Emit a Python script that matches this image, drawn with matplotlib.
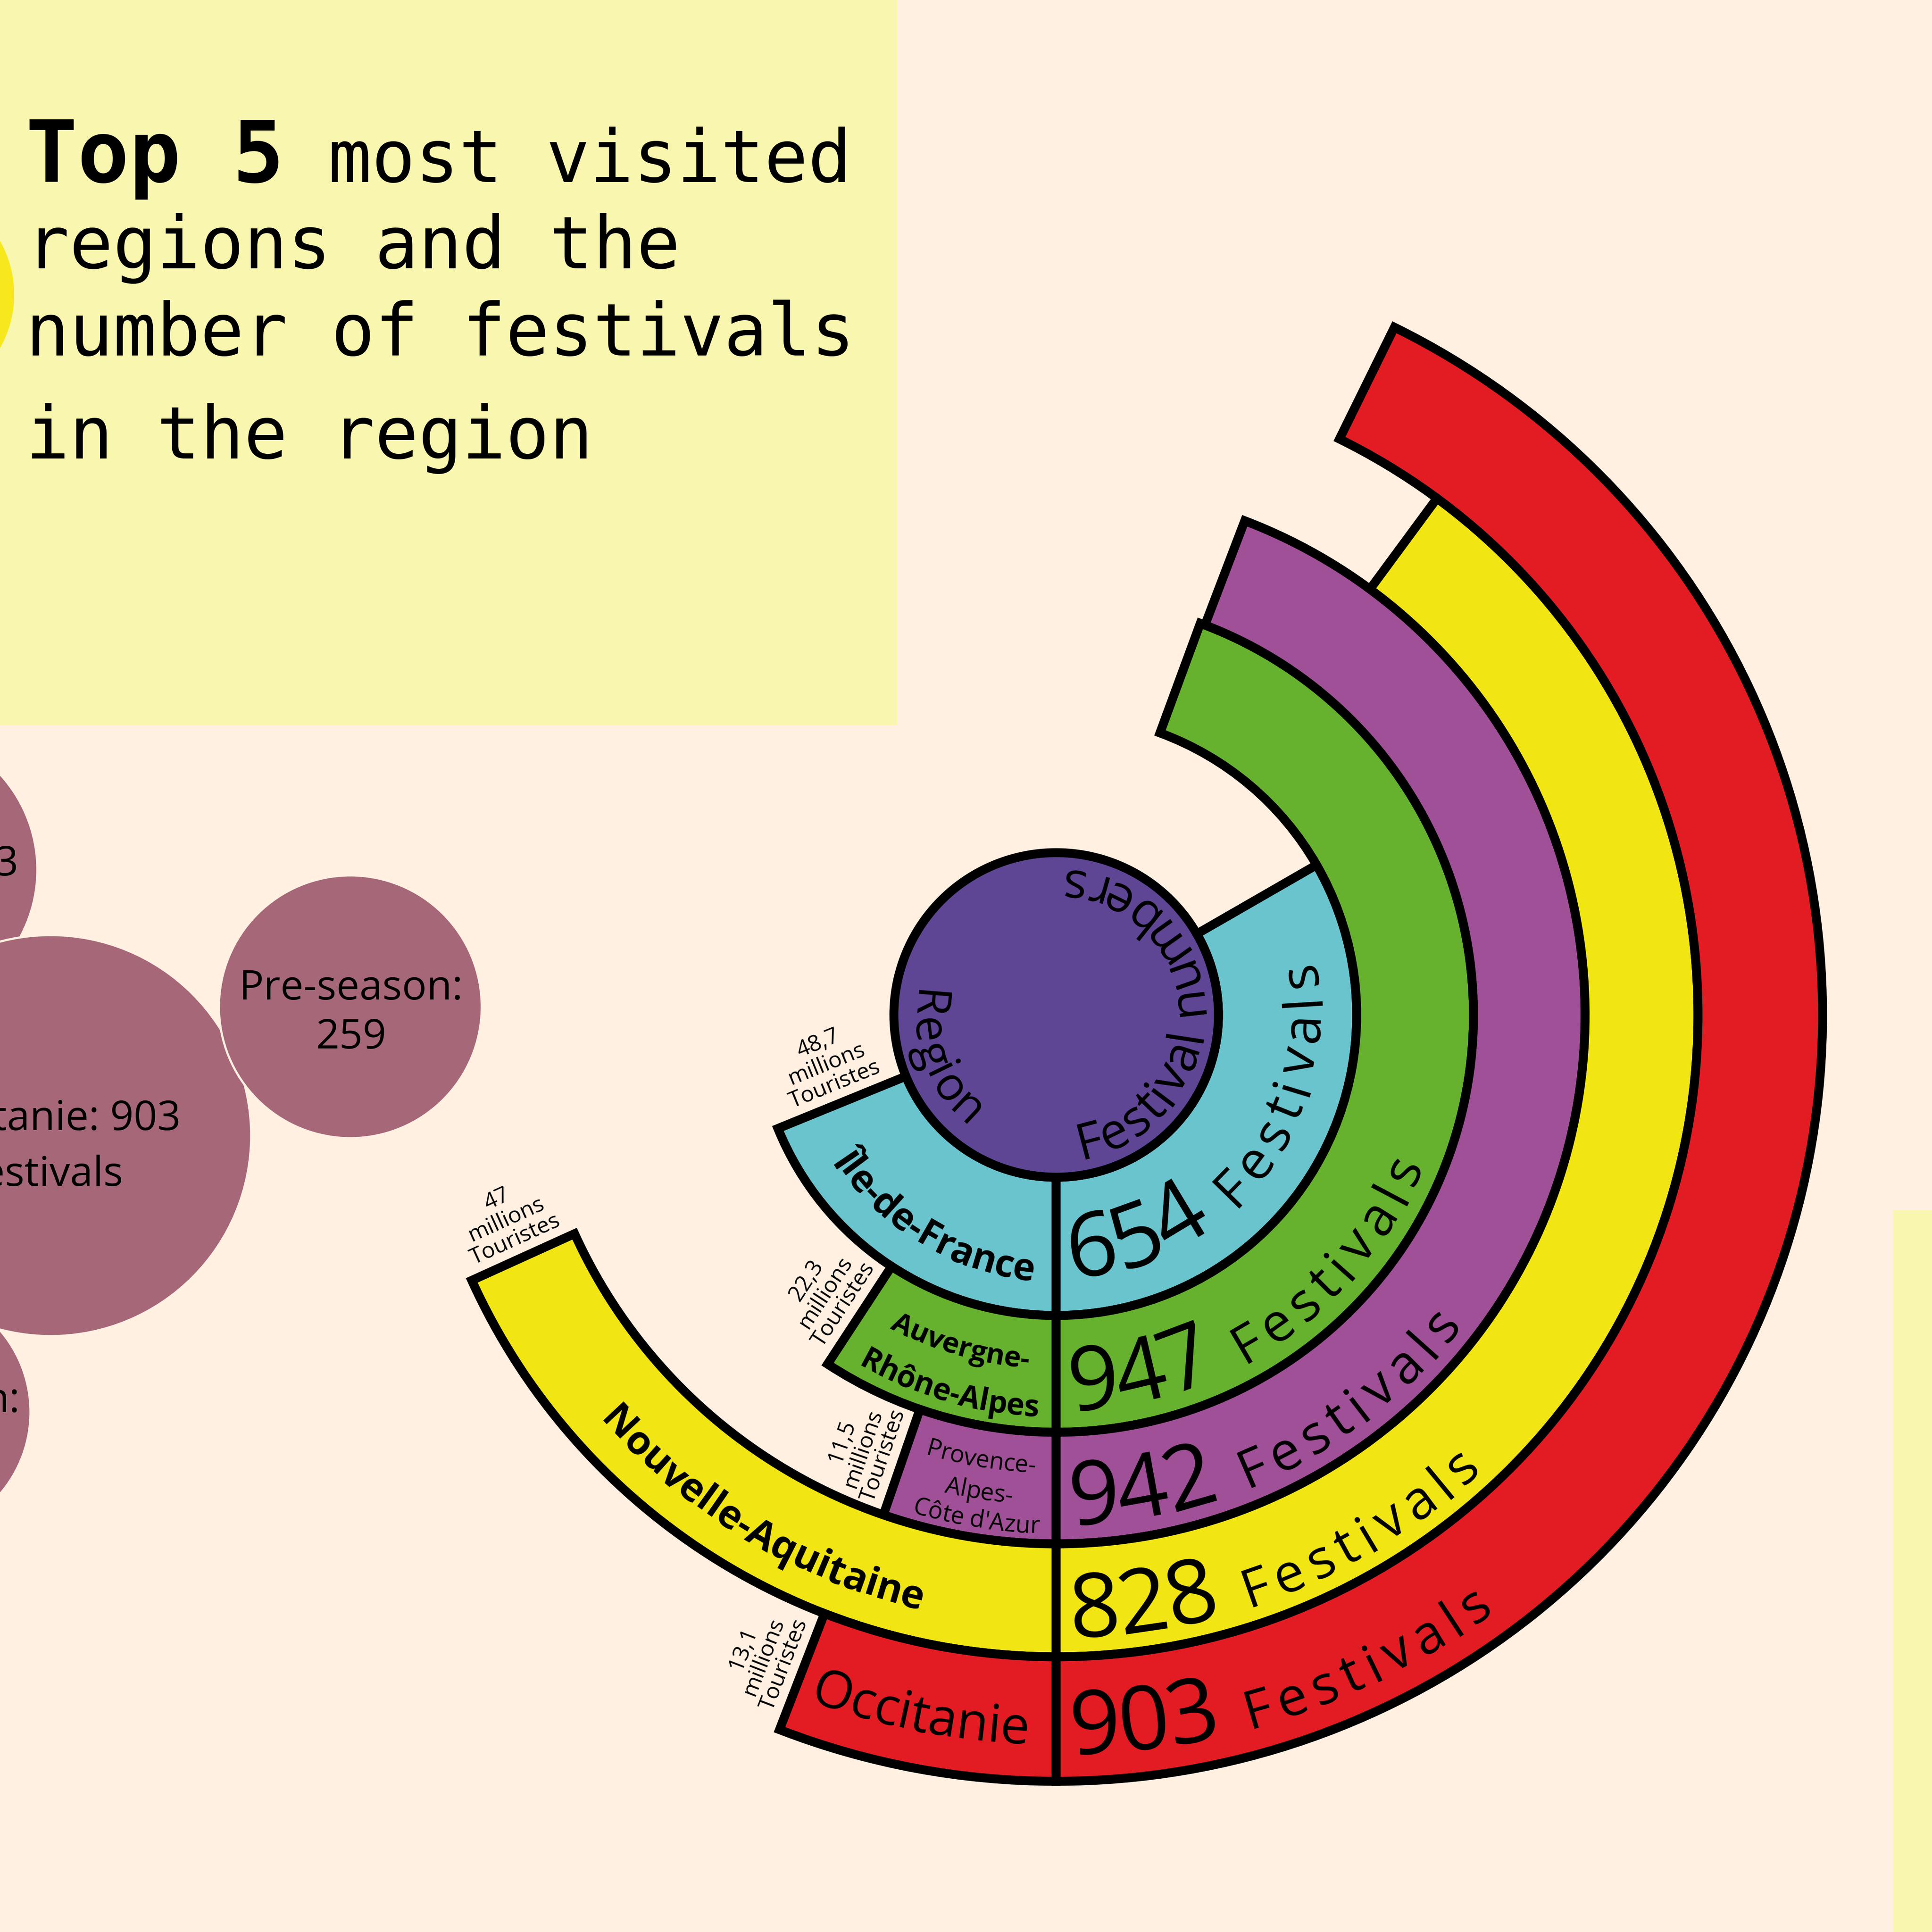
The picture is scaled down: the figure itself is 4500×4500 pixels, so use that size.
import numpy as np
import matplotlib
matplotlib.use("Agg")
import matplotlib.pyplot as plt
from matplotlib.patches import Circle, Rectangle
from matplotlib.font_manager import FontProperties, findfont, get_font

# ------------------------------------------------------------------ data
regions = ["Île-de-France", "Auvergne-Rhône-Alpes", "Provence-Alpes-Côte d'Azur",
           "Nouvelle-Aquitaine", "Occitanie"]
region_lines = [["Île-de-France"], ["Auvergne-", "Rhône-Alpes"],
                ["Provence-", "Alpes-", "Côte d'Azur"], ["Nouvelle-Aquitaine"], ["Occitanie"]]
tourists = [48.7, 22.3, 11.5, 47.0, 13.1]          # millions of tourists
tourist_text = ["48,7", "22,3", "11,5", "47", "13,1"]
festivals = [654, 947, 942, 828, 903]
festival_word = "Festivals"

title_bold = "Top 5"
title_rest = ["most visited", "regions and the", "number of festivals", "in the region"]

bubble_lines = [["3"], ["Occitanie: 903", "festivals"], ["Pre-season:", "259"], ["n:"]]

center_left = "Region"
center_right = "Festival numbers"

# ------------------------------------------------------------------ style / layout
DPI = 300
BG = "#FFF0E1"
PANEL = "#F9F6AF"
BUBBLE = "#A66879"
CENTER_C = "#5E4695"
ring_colors = ["#6AC4CE", "#66B22F", "#A05097", "#F1E614", "#E31C23"]
LW = 5.0
HAND = "Open Sans"

# radial layout (pixels)
r_edges = [378, 700, 972, 1232, 1495, 1785]
# angular scales (degrees) for the data
T0, TS = 4.0, 1.31      # tourists -> angle
F0, FS = 31.0, 0.136    # festivals -> angle

def t_angle(v):
    return T0 + TS * v

def f_angle(v):
    return F0 + FS * v

fig = plt.figure(figsize=(15, 15), dpi=DPI)
fig.patch.set_facecolor(BG)

# ---------------------------------------------------------- background axes (pixel coords)
bg = fig.add_axes([0, 0, 1, 1])
bg.set_xlim(0, 4500)
bg.set_ylim(4500, 0)
bg.axis("off")

bg.add_patch(Rectangle((0, 0), 2087, 1687, color=PANEL, zorder=1))
bg.add_patch(Rectangle((4411, 2821), 200, 1800, color=PANEL, zorder=1))
bg.add_patch(Circle((-219, 686), 250, color="#F7E81E", zorder=2))

# title
bg.text(60, 424, title_bold, family="DejaVu Sans Mono", weight="bold", fontsize=48,
        ha="left", va="baseline", zorder=5)
bg.text(764, 424, title_rest[0], family="DejaVu Sans Mono", fontsize=40.5,
        ha="left", va="baseline", zorder=5)
for txt, yb in zip(title_rest[1:], [625, 828, 1068]):
    bg.text(60, yb, txt, family="DejaVu Sans Mono", fontsize=40.5,
            ha="left", va="baseline", zorder=5)

# bubbles
bubble_geom = [(-242, 2026, 329), (118, 2645, 467), (816, 2345, 306), (-221, 3289, 292)]
for (cx, cy, rr) in bubble_geom:
    bg.add_patch(Circle((cx, cy), rr, facecolor=BUBBLE, edgecolor=BG, lw=1.2, zorder=3))
bfs = 23
bg.text(42, 2039, bubble_lines[0][0], family=HAND, fontsize=bfs, ha="right", va="baseline", zorder=5)
bg.text(106, 2632, bubble_lines[1][0], family=HAND, fontsize=bfs, ha="center", va="baseline", zorder=5)
bg.text(106, 2762, bubble_lines[1][1], family=HAND, fontsize=bfs, ha="center", va="baseline", zorder=5)
bg.text(818, 2328, bubble_lines[2][0], family=HAND, fontsize=bfs, ha="center", va="baseline", zorder=5)
bg.text(818, 2442, bubble_lines[2][1], family=HAND, fontsize=bfs, ha="center", va="baseline", zorder=5)
bg.text(47, 3289, bubble_lines[3][0], family=HAND, fontsize=bfs, ha="right", va="baseline", zorder=5)

# ---------------------------------------------------------- polar chart
CX, CY, RMAX = 2460, 2364, 2000
ax = fig.add_axes([(CX - RMAX) / 4500, (4500 - CY - RMAX) / 4500, 2 * RMAX / 4500, 2 * RMAX / 4500],
                  projection="polar")
ax.set_ylim(0, RMAX)
ax.set_axis_off()
ax.patch.set_visible(False)

for i in range(len(regions)):
    r_in, r_out = r_edges[i], r_edges[i + 1]
    A = t_angle(tourists[i])
    B = f_angle(festivals[i])
    ax.bar(np.radians(270 - A / 2), r_out - r_in, width=np.radians(A), bottom=r_in,
           color=ring_colors[i], edgecolor="black", linewidth=LW, zorder=2)
    ax.bar(np.radians(270 + B / 2), r_out - r_in, width=np.radians(B), bottom=r_in,
           color=ring_colors[i], edgecolor="black", linewidth=LW, zorder=2)

ax.bar(0, r_edges[0], width=2 * np.pi, bottom=0, color=CENTER_C, edgecolor="none", zorder=3)
tt = np.linspace(0, 2 * np.pi, 721)
ax.plot(tt, np.full_like(tt, r_edges[0]), color="black", lw=LW, zorder=4)

# ---------------------------------------------------------- arc text helper
_fonts = {}

def advances(text, size, family, weight):
    path = findfont(FontProperties(family=family, weight=weight))
    if path not in _fonts:
        _fonts[path] = get_font(path)
    f = _fonts[path]
    f.set_size(size, DPI)
    out = []
    for ch in text:
        g = f.load_char(ord(ch))
        out.append(g.linearHoriAdvance / 65536.0)
    return out


def arc_text(segments, theta, r, align="center", color="black", z=10):
    items = []
    for text, size, family, weight, trk in segments:
        adv = advances(text, size, family, weight)
        for ch, a in zip(text, adv):
            items.append((ch, a + trk, size, family, weight))
    total = sum(it[1] for it in items)
    if align == "center":
        start = theta - np.degrees(total / 2.0 / r)
    else:
        start = theta
    pos = 0.0
    for ch, a, size, family, weight in items:
        th = start + np.degrees((pos + a / 2.0) / r)
        if ch != " ":
            ax.text(np.radians(th), r, ch, rotation=(th + 90) % 360, rotation_mode="anchor",
                    ha="center", va="baseline", fontsize=size, family=family,
                    weight=weight, color=color, zorder=z)
        pos += a

# region names (left halves)
name_layout = [
    [(239.0, 622)],
    [(253.8, 826), (254.0, 937)],
    [(260.4, 1068), (260.8, 1142), (261.0, 1208)],
    [(239.4, 1422)],
    [(259.0, 1700)],
]
name_sizes = [[21], [16, 17], [13.5, 13.5, 13.5], [22], [29]]
name_weights = ["bold", "bold", "normal", "bold", "normal"]
for i, lines in enumerate(region_lines):
    for line, (th, rb), sz in zip(lines, name_layout[i], name_sizes[i]):
        arc_text([(line, sz, HAND, name_weights[i], 0)], th, rb)

# festival numbers (right halves)
num_base = [612, 922, 1188, 1450, 1722]
for i, f in enumerate(festivals):
    rb = num_base[i]
    th0 = 270 + np.degrees(34.0 / rb)
    arc_text([(f"{f} ", 50, HAND, "normal", 0), (festival_word, 30, HAND, "normal", 18)],
             th0, rb, align="start")

# tourist counts next to the left ends
for i, t in enumerate(tourists):
    r_in, r_out = r_edges[i], r_edges[i + 1]
    r_mid = (r_in + r_out) / 2.0
    th_e = 270 - t_angle(t)
    th = th_e - np.degrees(20.0 / r_mid)
    ax.text(np.radians(th), r_mid, f"{tourist_text[i]}\nmillions\nTouristes",
            rotation=th_e - 180, rotation_mode="anchor", ha="center", va="bottom",
            multialignment="center", fontsize=12.5, linespacing=1.0, family=HAND, zorder=10)

# centre circle text
arc_text([(center_left, 26, HAND, "normal", 4)], 201.0, 334)
arc_text([(center_right, 28, HAND, "normal", 5)], 364.0, 340)

fig.savefig("out.png", dpi=DPI, facecolor=BG)
